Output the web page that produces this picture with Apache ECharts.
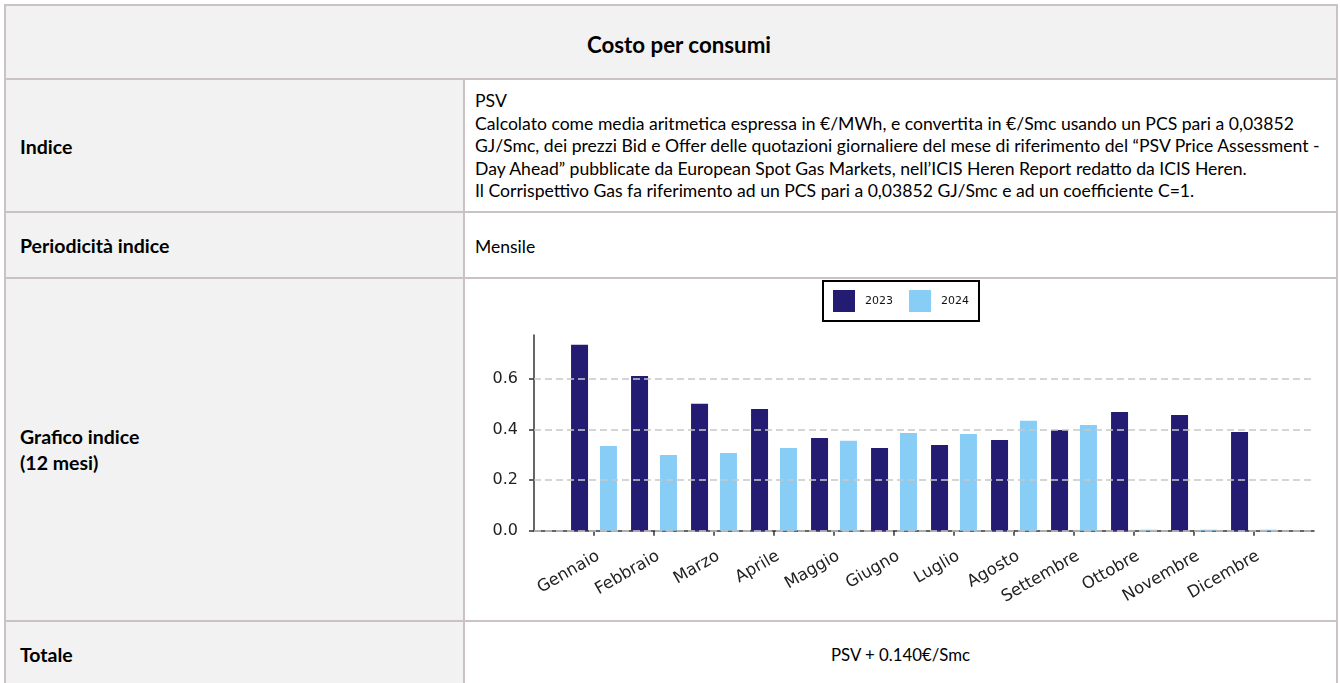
<!DOCTYPE html>
<html>
<head>
<meta charset="utf-8">
<script src="https://cdn.jsdelivr.net/npm/echarts@6/dist/echarts.min.js"></script>
<style>
  html, body { margin: 0; padding: 0; width: 1340px; height: 683px; overflow: hidden; background: #fff; }
  .bg { position: absolute; }
  .ln { position: absolute; background: #cbc3c3; }
  .t { position: absolute; white-space: nowrap; font-family: Lato, "Open Sans", sans-serif; color: #000; }
  .b { font-weight: bold; }
  #chart { position: absolute; left: 0; top: 0; width: 1340px; height: 683px; }
</style>
</head>
<body>
<!-- backgrounds -->
<div class="bg" style="left:5px;top:5px;width:1332px;height:74px;background:#f2f2f2"></div>
<div class="bg" style="left:5px;top:79px;width:459px;height:604px;background:#f2f2f2"></div>
<!-- grid lines of table -->
<div class="ln" style="left:4px;top:4px;width:1334px;height:2px"></div>
<div class="ln" style="left:4px;top:4px;width:2px;height:679px"></div>
<div class="ln" style="left:1336px;top:4px;width:2px;height:679px"></div>
<div class="ln" style="left:4px;top:78px;width:1334px;height:2px"></div>
<div class="ln" style="left:4px;top:211px;width:1334px;height:2px"></div>
<div class="ln" style="left:4px;top:277px;width:1334px;height:2px"></div>
<div class="ln" style="left:4px;top:620px;width:1334px;height:2px"></div>
<div class="ln" style="left:463px;top:79px;width:2px;height:604px"></div>

<!-- texts -->
<div class="t b" style="left:13px;width:1332px;text-align:center;top:30px;line-height:30px;font-size:22.3px">Costo per consumi</div>
<div class="t b" style="left:20px;top:134px;line-height:26px;font-size:19.5px">Indice</div>
<div class="t b" style="left:20px;top:233px;line-height:26px;font-size:19.5px">Periodicità indice</div>
<div class="t b" style="left:20px;top:424px;line-height:26px;font-size:19.5px">Grafico indice<br>(12 mesi)</div>
<div class="t b" style="left:20px;top:642px;line-height:26px;font-size:19.5px">Totale</div>

<div class="t" style="left:475px;top:90px;line-height:22.5px;font-size:17.6px">PSV<br>Calcolato come media aritmetica espressa in €/MWh, e convertita in €/Smc usando un PCS pari a 0,03852<br>GJ/Smc, dei prezzi Bid e Offer delle quotazioni giornaliere del mese di riferimento del “PSV Price Assessment -<br>Day Ahead” pubblicate da European Spot Gas Markets, nell’ICIS Heren Report redatto da ICIS Heren.<br>Il Corrispettivo Gas fa riferimento ad un PCS pari a 0,03852 GJ/Smc e ad un coefficiente C=1.</div>
<div class="t" style="left:475px;top:234px;line-height:26px;font-size:17.5px">Mensile</div>
<div class="t" style="left:464px;width:873px;text-align:center;top:642px;line-height:26px;font-size:16.8px">PSV + 0.140€/Smc</div>

<div id="chart"></div>
<script>
const months = ['Gennaio','Febbraio','Marzo','Aprile','Maggio','Giugno','Luglio','Agosto','Settembre','Ottobre','Novembre','Dicembre'];
const seriesNames = ['2023', '2024'];
const values2023 = [0.734, 0.611, 0.501, 0.481, 0.366, 0.327, 0.339, 0.358, 0.398, 0.469, 0.457, 0.390];
const values2024 = [0.335, 0.299, 0.307, 0.327, 0.355, 0.386, 0.382, 0.434, 0.418, 0.004, 0.004, 0.004];
const yTicks = [0, 0.2, 0.4, 0.6];
const yMax = 0.773;

const cats = [''].concat(months, ['']);
const pad = (arr) => ['-'].concat(arr, ['-']);
const axisFont = "'DejaVu Sans'";

const chart = echarts.init(document.getElementById('chart'), null, { renderer: 'canvas' });
chart.setOption({
  backgroundColor: 'transparent',
  animation: false,
  legend: {
    data: seriesNames,
    left: 823, top: 281,
    orient: 'horizontal',
    icon: 'rect',
    itemWidth: 22, itemHeight: 22, itemGap: 16,
    padding: [9, 10, 9, 10],
    borderColor: '#000', borderWidth: 2,
    selectedMode: false,
    textStyle: { fontFamily: axisFont, fontSize: 11, color: '#111', padding: [0, 0, 0, 5] }
  },
  grid: { left: 534, top: 335, width: 780, height: 195.7, containLabel: false },
  xAxis: {
    type: 'category',
    data: cats,
    boundaryGap: false,
    axisLine: { show: true, lineStyle: { color: '#333', width: 1.5 } },
    axisTick: { show: true, length: 5, lineStyle: { color: '#333', width: 1.5 },
      interval: function (idx) { return idx > 0 && idx < cats.length - 1; } },
    axisLabel: { interval: 0, rotate: 30, margin: 17, verticalAlign: 'top',
      fontFamily: axisFont, fontSize: 16.5, color: '#222' },
    splitLine: { show: false }
  },
  yAxis: {
    type: 'value',
    min: 0, max: yMax,
    axisLine: { show: true, lineStyle: { color: '#333', width: 1.5 } },
    axisTick: { show: true, length: 5, customValues: yTicks, lineStyle: { color: '#333', width: 1.5 } },
    axisLabel: { customValues: yTicks, margin: 16, fontFamily: axisFont, fontSize: 16, color: '#222',
      formatter: function (v) { return v.toFixed(1); } },
    splitLine: { show: false }
  },
  series: [
    {
      name: 'grid', type: 'line', data: cats.map(() => '-'), silent: true, z: 1,
      markLine: {
        silent: true, symbol: ['none', 'none'], label: { show: false },
        lineStyle: { color: '#c8c8c8', width: 1.5, type: [7, 4] },
        data: yTicks.map(v => ({ yAxis: v }))
      }
    },
    { name: seriesNames[0], type: 'bar', data: pad(values2023), barWidth: 17, barGap: '70%',
      itemStyle: { color: '#241c73' }, z: 2 },
    { name: seriesNames[1], type: 'bar', data: pad(values2024), barWidth: 17, barGap: '70%',
      itemStyle: { color: '#87cdf6' }, z: 2 }
  ]
});
</script>
</body>
</html>
